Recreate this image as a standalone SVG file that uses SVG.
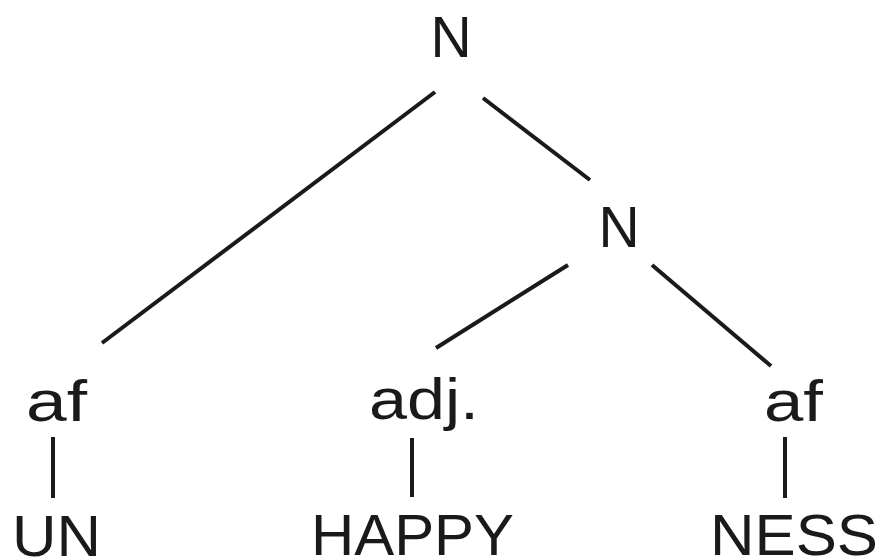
<svg xmlns="http://www.w3.org/2000/svg" width="881" height="560" viewBox="0 0 881 560">
<style>
text{font-family:"Liberation Sans",Arial,sans-serif;font-size:57px;fill:#1a1a1a}
line{stroke:#1a1a1a;stroke-width:4;stroke-linecap:butt}
</style>
<rect width="881" height="560" fill="#fff"/>
<g id="connectors">
<line x1="435" y1="92" x2="102" y2="343"/>
<line x1="483" y1="98" x2="590" y2="180"/>
<line x1="568" y1="265" x2="436" y2="348"/>
<line x1="652" y1="265" x2="771" y2="366"/>
<line x1="53" y1="437" x2="53" y2="498"/>
<line x1="412" y1="438" x2="412" y2="497"/>
<line x1="785" y1="437" x2="785" y2="498"/>
</g>
<g id="n-root"><text x="451" y="57" text-anchor="middle">N</text></g>
<g id="n-sub"><text x="619" y="247" text-anchor="middle">N</text></g>
<g id="af-left"><text x="26" y="421" textLength="61" lengthAdjust="spacingAndGlyphs">af</text></g>
<g id="adj"><text x="369" y="419" textLength="110" lengthAdjust="spacingAndGlyphs">adj.</text></g>
<g id="af-right"><text x="764" y="421" textLength="59" lengthAdjust="spacingAndGlyphs">af</text></g>
<g id="un"><text x="12" y="556" textLength="89" lengthAdjust="spacingAndGlyphs">UN</text></g>
<g id="happy"><text x="311" y="555" textLength="203" lengthAdjust="spacingAndGlyphs">HAPPY</text></g>
<g id="ness"><text x="710" y="555" textLength="168" lengthAdjust="spacingAndGlyphs">NESS</text></g>
</svg>
